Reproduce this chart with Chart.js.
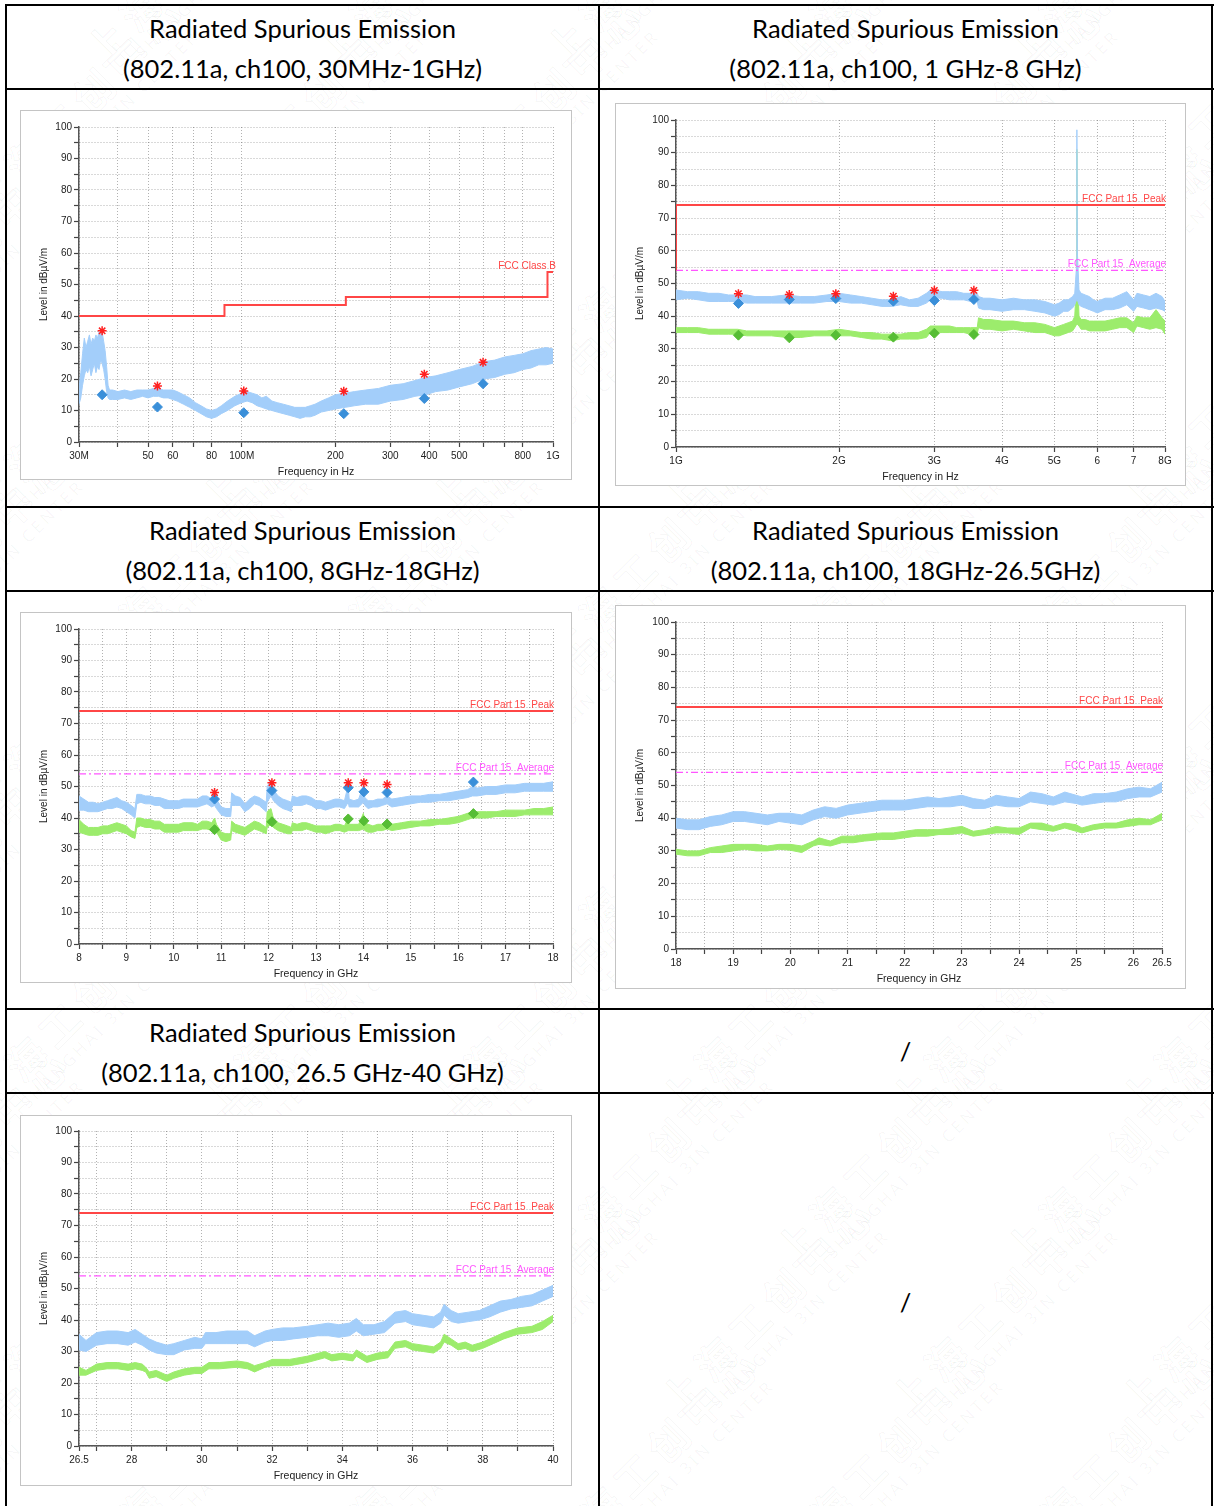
<!DOCTYPE html>
<html>
<head>
<meta charset="utf-8">
<script src="https://cdn.jsdelivr.net/npm/chart.js@4.4.0/dist/chart.umd.min.js"></script>
<style>
html,body{margin:0;padding:0;background:#fff;}
body{width:1214px;height:1506px;position:relative;overflow:hidden;font-family:Lato,"Noto Sans",sans-serif;}
#wm{position:absolute;left:0;top:0;width:1214px;height:1506px;overflow:hidden;z-index:0;}
.wmi{position:absolute;white-space:nowrap;transform:rotate(-45deg);transform-origin:left top;}
.wmi .cn{font-family:"Noto Sans CJK SC";font-size:40px;font-weight:700;line-height:46px;letter-spacing:8px;color:rgba(0,0,0,0.012);-webkit-text-stroke:1px rgba(0,0,0,0.045);}
.wmi .en{font-family:"Noto Sans";font-size:17px;line-height:20px;letter-spacing:3px;padding-left:34px;color:rgba(0,0,0,0.035);}
.ln{position:absolute;background:#000;z-index:3;}
.hd{position:absolute;z-index:2;text-align:center;font-size:25.5px;color:#000;line-height:40px;white-space:nowrap;}
.frame{position:absolute;border:1px solid #c4c4c4;background:#fff;z-index:1;}
.frame canvas{display:block;}
</style>
</head>
<body>
<div id="wm"></div>

<!-- table grid lines -->
<div class="ln" style="left:5px;top:4px;width:1209px;height:2px;"></div>
<div class="ln" style="left:5px;top:88px;width:1209px;height:2px;"></div>
<div class="ln" style="left:5px;top:506px;width:1209px;height:2px;"></div>
<div class="ln" style="left:5px;top:590px;width:1209px;height:2px;"></div>
<div class="ln" style="left:5px;top:1008px;width:1209px;height:2px;"></div>
<div class="ln" style="left:5px;top:1092px;width:1209px;height:2px;"></div>
<div class="ln" style="left:5px;top:4px;width:2px;height:1502px;"></div>
<div class="ln" style="left:598px;top:4px;width:2px;height:1502px;"></div>
<div class="ln" style="left:1211px;top:4px;width:2px;height:1502px;"></div>

<!-- headers -->
<div class="hd" style="left:7px;top:8px;width:591px;">Radiated Spurious Emission<br>(802.11a, ch100, 30MHz-1GHz)</div>
<div class="hd" style="left:600px;top:8px;width:611px;">Radiated Spurious Emission<br>(802.11a, ch100, 1 GHz-8 GHz)</div>
<div class="hd" style="left:7px;top:510px;width:591px;">Radiated Spurious Emission<br>(802.11a, ch100, 8GHz-18GHz)</div>
<div class="hd" style="left:600px;top:510px;width:611px;">Radiated Spurious Emission<br>(802.11a, ch100, 18GHz-26.5GHz)</div>
<div class="hd" style="left:7px;top:1012px;width:591px;">Radiated Spurious Emission<br>(802.11a, ch100, 26.5 GHz-40 GHz)</div>
<div class="hd" style="left:600px;top:1031px;width:611px;">/</div>
<div class="hd" style="left:600px;top:1282px;width:611px;">/</div>

<!-- chart frames -->
<div class="frame" style="left:20px;top:110px;width:550px;height:368px;"><canvas id="c1" width="550" height="368"></canvas></div>
<div class="frame" style="left:615px;top:103px;width:569px;height:381px;"><canvas id="c2" width="569" height="381"></canvas></div>
<div class="frame" style="left:20px;top:612px;width:550px;height:369px;"><canvas id="c3" width="550" height="369"></canvas></div>
<div class="frame" style="left:615px;top:605px;width:569px;height:382px;"><canvas id="c4" width="569" height="382"></canvas></div>
<div class="frame" style="left:20px;top:1115px;width:550px;height:369px;"><canvas id="c5" width="550" height="369"></canvas></div>

<script>
// ===================== DATA =====================
// Chart 1: 30 MHz - 1 GHz  (frequency MHz, upper, lower level of the noisy trace band)
const c1Peak = [[30,17,12],[30.4,22,14],[30.8,28,18],[31.2,33,21],[31.6,30,23],[32,32,22],[32.4,34,24],[32.8,31,21],[33.2,33,23],[33.6,32,25],[34,34,22],[34.4,33,24],[34.8,35,23],[35.2,34,26],[35.6,35,25],[36,32,23],[36.4,29,20],[36.8,24,16],[37.2,18,14],[37.6,16.5,13.5],[38.5,16.5,13.5],[40,16,13.5],[42,16.5,14],[44,16,13.5],[46,16.5,14],[48,16.5,14.5],[50,16.5,14],[52,17,14.5],[54,17,14.5],[56,16.5,14],[58,16.5,14],[60,16.5,13.5],[62,16,13],[65,15,12],[68,14,11],[71,12.5,10],[74,11.5,9],[77,10.5,8],[80,10,7.5],[83,10.5,8],[86,11.5,9],[90,13,10],[95,14.5,11.5],[100,15.5,12.5],[104,16,13],[108,15.5,12.5],[112,15,11.5],[116,14,11],[120,14.5,10.5],[125,13,10],[130,12.5,9.5],[136,12,9],[142,11.5,8.5],[148,11,8],[154,11,7.5],[160,11,8],[166,11.5,8],[172,12,8.5],[180,13,9.5],[190,14,10],[200,15,10.5],[215,15.5,11],[230,16,11.5],[250,16.5,12],[275,17,12],[300,18,13],[330,18.5,13.5],[360,19.5,14.5],[390,20.5,15],[420,21,16],[460,22,16.5],[500,23,17.5],[550,24,18.5],[600,25.5,20],[650,26,20.5],[700,27,21.5],[750,27.5,22],[800,28,23],[850,29,23.5],[900,29.5,24.5],[950,30,24.5],[1000,29.5,25]];
const c1PeakMarks = [[35.6,35.3],[53.6,17.8],[101.5,16.2],[212.7,16.1],[386,21.5],[596,25.3]];
const c1QpMarks = [[35.6,15],[53.6,11.1],[101.5,9.3],[212.7,9.0],[386,13.8],[596,18.5]];
const c1LimitFreq = [30,88,88,216,216,960,960,1000];
const c1LimitLevel = [40,40,43.5,43.5,46,46,54,54];
const c1XTicks = [30,40,50,60,70,80,100,200,300,400,500,600,700,800,1000];
const c1XLabels = ['30M','','50','60','','80','100M','200','300','400','500','','','800','1G'];

// Chart 2: 1 GHz - 8 GHz (GHz, upper, lower)
const c2Peak = [[1.0,48,45],[1.05,47.5,45.5],[1.1,47.5,45],[1.15,47,44.5],[1.2,47,44.5],[1.25,46.5,44.5],[1.3,46.5,44.5],[1.35,46.5,44],[1.4,46,44],[1.5,46,44],[1.6,46.5,44],[1.7,46,44],[1.8,46,44],[1.9,46.5,44.5],[2.0,47,44.5],[2.1,46.5,44],[2.2,46,44],[2.3,45.5,43.5],[2.4,45,43],[2.5,45,43],[2.6,46,43.5],[2.7,45,43],[2.8,45.5,43],[2.9,47,44],[2.95,48,45],[3.0,48,45.5],[3.1,47.5,45.5],[3.2,47.5,45],[3.3,47.5,45],[3.4,47,45],[3.5,47,44.5],[3.6,47,44.5],[3.62,46,42.5],[3.7,45.5,42],[3.8,45.5,42],[4.0,45,41.5],[4.2,45.5,42],[4.4,45,42],[4.6,45,41.5],[4.8,44.5,41],[5.0,43.5,40],[5.1,44,40.5],[5.2,45,41.5],[5.3,45,41.5],[5.4,46,42.5],[5.45,47,43.5],[5.49,55,45],[5.5,97,45],[5.51,60,45],[5.55,48,43.5],[5.6,47,43],[5.7,46.5,42.5],[5.8,46,42],[5.9,45,41.5],[6.0,44.5,41],[6.2,45.5,42],[6.4,45.5,42],[6.6,46.5,42.5],[6.8,47.5,43.5],[7.0,45,41.5],[7.1,47,43],[7.3,46.5,42.5],[7.5,46,42],[7.7,47,42.5],[7.9,46,42],[8.0,44.5,41.5]];
const c2Avg = [[1.0,36.5,35],[1.05,36.5,35],[1.1,36.5,35],[1.15,36,34.5],[1.2,36,34.5],[1.25,36,34.5],[1.3,36,34.5],[1.35,35.5,34],[1.4,35.5,34],[1.5,35.5,34],[1.6,35.5,33.5],[1.7,35.5,33.5],[1.8,35.5,34],[1.9,35.5,34],[2.0,36,34],[2.1,35.5,34],[2.2,35,33.5],[2.3,35,33],[2.4,34.5,33],[2.5,34.5,32.5],[2.6,34.5,33],[2.7,35,33],[2.8,35,33],[2.9,36,33.5],[2.95,37,35],[3.0,37,35],[3.1,37,35],[3.2,37,35],[3.3,36.5,35],[3.4,36.5,35],[3.5,36.5,34.5],[3.6,36.5,34.5],[3.62,39.5,36.5],[3.7,39,36],[3.8,39,36],[4.0,38.5,35.5],[4.2,38.5,36],[4.4,38,35.5],[4.6,38,35],[4.8,37.5,35],[5.0,36.5,34],[5.1,37,34],[5.2,37.5,34.5],[5.3,38,35],[5.4,38.5,35.5],[5.45,40,36.5],[5.49,50,37.5],[5.5,91,37.5],[5.51,55,37.5],[5.55,40,37],[5.6,39,36],[5.7,39,36],[5.8,38.5,35.5],[5.9,38.5,35.5],[6.0,38.5,35.5],[6.2,38.5,35.5],[6.4,39,36],[6.6,39.5,36.5],[6.8,39.5,36.5],[7.0,38,35],[7.1,40,37],[7.3,39.5,36.5],[7.5,39.5,36],[7.7,42,36.5],[7.9,39.5,36],[8.0,38.5,34.5]];
const c2PeakMarks = [[1.304,46.9],[1.619,46.6],[1.973,46.9],[2.52,46.1],[3.0,47.9],[3.549,47.9]];
const c2PeakDiamonds = [[1.304,43.9],[1.619,45.1],[1.973,45.4],[2.52,44.6],[3.0,44.8],[3.549,45.1]];
const c2AvgDiamonds = [[1.304,34.2],[1.619,33.4],[1.973,34.2],[2.52,33.6],[3.0,34.8],[3.549,34.4]];
const c2PeakLimitFreq = [1,1,8];
const c2PeakLimitLevel = [54,74,74];
const c2AvgLimitFreq = [1,8];
const c2AvgLimitLevel = [54,54];
const c2XTicks = [1,2,3,4,5,6,7,8];
const c2XLabels = ['1G','2G','3G','4G','5G','6','7','8G'];

// Chart 3: 8 - 18 GHz
const c3Peak = [[8.0,47,42.5],[8.1,46,42.5],[8.2,45,42],[8.3,45,42],[8.4,44.5,42],[8.5,45,42.5],[8.6,45.5,43],[8.7,46,43],[8.8,46.5,43.5],[8.9,45.5,43],[9.0,45,42],[9.1,44,41],[9.18,43,40],[9.22,47.5,44.5],[9.3,47.5,45],[9.4,47,44.5],[9.5,47,44.5],[9.6,46.5,44],[9.7,46.5,44],[9.8,46,43],[9.9,45.5,43],[10.0,45.5,43],[10.1,45.5,43],[10.2,46,43.5],[10.3,46,43.5],[10.4,46,43.5],[10.5,46,43.5],[10.6,47,44],[10.7,47,44.5],[10.8,46,43.5],[10.86,49,44],[10.9,46,43],[11.0,43.5,41],[11.1,43,40.5],[11.2,43,40.5],[11.22,48,44],[11.3,47,44],[11.4,46.5,44],[11.5,44.5,42],[11.6,46,43],[11.7,47,44.5],[11.8,46.5,44],[11.95,45,42],[11.97,50,45],[12.05,52,47],[12.1,49,45.5],[12.2,47,44],[12.3,46,43],[12.4,45.5,42.5],[12.48,45,42],[12.5,47,44],[12.6,46.5,44],[12.7,47,44],[12.8,47,44.5],[12.9,46.5,44],[13.0,45.5,43],[13.1,45.5,43],[13.2,45,42.5],[13.3,45.5,43],[13.4,46,43.5],[13.5,46,43.5],[13.6,45.5,43],[13.68,50.5,45],[13.7,46,43.5],[13.8,45.5,43.5],[13.9,46,43.5],[14.0,50.5,45],[14.03,46.5,44],[14.1,45.5,43],[14.2,45.5,43.5],[14.3,46,43.5],[14.4,46,44],[14.5,47,44.5],[14.6,46,43.5],[14.8,46.5,44],[15.0,47,44.5],[15.2,47,45],[15.4,47.5,45],[15.6,47.5,45.5],[15.8,48,45.5],[16.0,48.5,46],[16.2,49,46.5],[16.3,50,47],[16.4,49.5,47],[16.6,50,47.5],[16.8,50,47.5],[17.0,50.5,48],[17.2,50.5,48],[17.4,51,48.5],[17.6,51,48.5],[17.8,51,48.5],[18.0,51.5,48.5]];
const c3Avg = [[8.0,39.5,35.5],[8.1,38,35],[8.2,37,34.5],[8.3,37,34.5],[8.4,37,34.5],[8.5,37.5,35],[8.6,37.5,35],[8.7,38,35.5],[8.8,38.5,36],[8.9,38,35.5],[9.0,37.5,35],[9.1,36,34],[9.18,35.5,33.5],[9.22,40,37],[9.3,40,37.5],[9.4,39.5,37],[9.5,39.5,37],[9.6,39,36.5],[9.7,39,36.5],[9.8,38,35.5],[9.9,38,35.5],[10.0,38,35.5],[10.1,38,35.5],[10.2,38.5,36],[10.3,38.5,36],[10.4,38.5,36],[10.5,38,36],[10.6,39,36.5],[10.7,39,36.5],[10.8,38.5,36],[10.86,40,36],[10.9,38,35.5],[11.0,35.5,33],[11.1,35,32.5],[11.2,35,33],[11.22,39,36],[11.3,38,35.5],[11.4,37.5,35],[11.5,37,34.5],[11.6,38,35.5],[11.7,39,36.5],[11.8,38.5,36],[11.95,37,35],[11.97,42,37],[12.05,43,38],[12.1,40,37],[12.2,38.5,36],[12.3,38,35.5],[12.4,37.5,35],[12.48,37,35],[12.5,38.5,36],[12.6,38,36],[12.7,38.5,36],[12.8,38.5,36.5],[12.9,38,36],[13.0,37.5,35.5],[13.1,37.5,35.5],[13.2,37.5,35],[13.3,37.5,35.5],[13.4,38,36],[13.5,38,36],[13.6,37.5,35.5],[13.68,40,36],[13.7,38,36],[13.8,38,36],[13.9,38,36],[14.0,41.5,36.5],[14.03,38.5,36],[14.1,38,35.5],[14.2,37.5,35.5],[14.3,38,36],[14.4,38,36],[14.5,38.5,36.5],[14.6,38,36],[14.8,38.5,36.5],[15.0,39,37],[15.2,39,37.5],[15.4,39.5,37.5],[15.6,39.5,38],[15.8,40,38],[16.0,40.5,38.5],[16.2,41.5,39.5],[16.3,42,40],[16.4,42,40],[16.6,42,40],[16.8,42,40.5],[17.0,42.5,40.5],[17.2,42.5,40.5],[17.4,42.5,41],[17.6,43,41],[17.8,43,41],[18.0,43.5,41]];
const c3PeakMarks = [[10.86,48.1],[12.07,51.2],[13.68,51.2],[14.01,51.2],[14.5,50.6]];
const c3PeakDiamonds = [[10.86,46.0],[12.07,48.7],[13.68,49.6],[14.01,48.3],[14.5,48.1],[16.32,51.4]];
const c3AvgDiamonds = [[10.86,36.3],[12.07,38.8],[13.68,39.7],[14.01,39.1],[14.5,38.1],[16.32,41.4]];
const c3LimitFreq = [8,18];
const c3XTicks = [8,8.5,9,9.5,10,10.5,11,11.5,12,12.5,13,13.5,14,14.5,15,15.5,16,16.5,17,17.5,18];
const c3XLabels = ['8','','9','','10','','11','','12','','13','','14','','15','','16','','17','','18'];

// Chart 4: 18 - 26.5 GHz
const c4Peak = [[18.0,40,37],[18.2,39.5,36.5],[18.4,39.5,36.5],[18.6,40.5,37.5],[18.8,41,38],[19.0,42,39],[19.2,42,39],[19.4,41.5,38.5],[19.6,41,38],[19.8,41.5,39],[20.0,41.5,38.5],[20.2,41,38],[20.4,42.5,39.5],[20.6,43.5,40.5],[20.8,43,40],[21.0,44,41],[21.2,44.5,41.5],[21.4,45,42],[21.6,45.5,42.5],[21.8,45.5,42.5],[22.0,45.5,42.5],[22.2,46,43],[22.4,46.5,43.5],[22.6,46,43.5],[22.8,46.5,43.5],[23.0,47,44],[23.2,46,43],[23.4,45.5,43],[23.6,47,44],[23.8,46.5,43.5],[24.0,46,43.5],[24.2,48,45],[24.4,47.5,44.5],[24.6,46.5,44],[24.8,48,45],[25.0,47,44.5],[25.1,46.5,44],[25.3,47.5,44.5],[25.5,47.5,45],[25.7,48,45],[25.9,49,46],[26.1,49.5,46.5],[26.3,49,46.5],[26.5,51,48]];
const c4Avg = [[18.0,30.5,29],[18.2,30,28.5],[18.4,30,28.5],[18.6,31,29.5],[18.8,31.5,29.5],[19.0,32,30],[19.2,32,30.5],[19.4,32,30],[19.6,31.5,30],[19.8,32,30.5],[20.0,32,30.2],[20.2,31.5,29.5],[20.4,33,31.5],[20.5,34,32],[20.7,33,31.5],[20.9,34.5,32.5],[21.1,34.5,32.5],[21.3,35,33],[21.6,35.5,33.5],[21.8,35.5,33.5],[22.0,36,34],[22.2,36.5,34.5],[22.4,36.5,34.5],[22.6,36.5,35],[22.8,37,35],[23.0,37.5,35.5],[23.2,36,34.5],[23.4,36.5,35],[23.6,37.5,35.5],[23.8,37,35.5],[24.0,37,35],[24.2,38.5,37],[24.4,38.5,36.5],[24.6,37.5,36],[24.8,38.5,37],[25.0,38,36],[25.1,37,35.5],[25.3,38,36.5],[25.5,38.5,37],[25.7,38.5,37],[25.9,39.5,37.5],[26.1,40,38],[26.3,39.5,38],[26.5,41.5,39.5]];
const c4LimitFreq = [18,26.5];
const c4XTicks = [18,18.5,19,19.5,20,20.5,21,21.5,22,22.5,23,23.5,24,24.5,25,25.5,26,26.5];
const c4XLabels = ['18','','19','','20','','21','','22','','23','','24','','25','','26','26.5'];

// Chart 5: 26.5 - 40 GHz
const c5Peak = [[26.5,35.5,30.5],[26.7,33.5,30],[27.0,36,32],[27.3,36.5,32.5],[27.6,36.5,32.5],[27.9,36,32],[28.1,37,33],[28.3,35.5,32],[28.5,34,30.5],[28.7,33,29.5],[29.0,32,29],[29.2,32.5,29],[29.5,33.5,30.5],[29.8,34.5,31],[30.0,34,31],[30.1,36,32.5],[30.4,36,32.5],[30.7,36.5,32.5],[31.0,36.5,32.5],[31.3,36.5,32.5],[31.5,35,31.5],[31.8,36.5,33],[32.0,37,33.5],[32.3,37.5,33.5],[32.6,37.5,34],[33.0,38,34.5],[33.3,38.5,35],[33.6,39,35],[33.9,38.5,34.5],[34.2,39,35],[34.4,40.5,36.5],[34.6,38.5,35],[34.9,38.5,35.5],[35.2,39.5,36],[35.5,42.5,39],[35.8,43,39.5],[36.0,42,38.5],[36.3,41.5,38],[36.6,41,37.5],[36.8,42.5,39],[36.9,45,41.5],[37.1,43,39.5],[37.3,42,39],[37.6,42.5,39.5],[37.9,43,40],[38.2,44.5,41],[38.5,46,42.5],[38.8,46.5,43.5],[39.1,47.5,44],[39.4,48,44.5],[39.7,49.5,46],[40.0,51,47.5]];
const c5Avg = [[26.5,25,22.5],[26.7,24,22.5],[27.0,26,24],[27.3,26.5,24.5],[27.6,26.5,24.5],[27.9,26,24],[28.1,26.5,24.5],[28.3,26,24],[28.4,25,23.5],[28.5,23.5,21.5],[28.7,24,22],[29.0,22.5,20.5],[29.2,23.5,21.5],[29.5,24.5,22.5],[29.8,25,23],[30.0,25,23],[30.2,26.5,24.5],[30.5,26.5,24.5],[31.0,27,25],[31.3,26.5,24.5],[31.5,25.5,23.5],[31.8,26.5,25],[32.0,27.5,25.5],[32.5,27.5,25.5],[33.0,28.5,26.5],[33.5,30,28],[33.7,29,27],[34.0,29.5,27.5],[34.3,29,27],[34.4,30.5,28.5],[34.7,28.5,26.5],[35.0,29.5,27.5],[35.3,30,28],[35.5,33,31],[35.8,33.5,31.5],[36.0,32.5,30.5],[36.3,32,30],[36.6,31.5,29.5],[36.8,33,31],[36.9,35.5,33],[37.1,34,32],[37.3,32.5,30.5],[37.5,33,31],[37.7,32,30],[38.0,33,31],[38.3,34.5,32.5],[38.6,36,34],[39.0,37.5,35.5],[39.4,38,36],[39.7,39.5,37],[40.0,41.5,39.5]];
const c5LimitFreq = [26.5,40];
const c5XTicks = [26.5,27,28,29,30,31,32,33,34,35,36,37,38,39,40];
const c5XLabels = ['26.5','','28','','30','','32','','34','','36','','38','','40'];

// Common limits & texts
const peakLimitLevel = [74,74];
const avgLimitLevel = [54,54];
const peakLimitText = 'FCC Part 15  Peak';
const avgLimitText = 'FCC Part 15  Average';
const classBText = 'FCC Class B';
const yTitle = 'Level in dB\u00B5V/m';

// ===================== WATERMARK =====================
(function(){
  const wm = document.getElementById('wm');
  for (let r = -3; r < 13; r++) {
    for (let c = -2; c < 8; c++) {
      const el = document.createElement('div');
      el.className = 'wmi';
      el.style.left = (c * 230 + (r % 2 ? 115 : 0) - 40) + 'px';
      el.style.top = (r * 150 + 190) + 'px';
      el.innerHTML = '<div class="cn">上海工创中心</div><div class="en">SHANGHAI 3IN CENTER</div>';
      wm.appendChild(el);
    }
  }
})();

// ===================== CHARTS =====================
const FONT = '"Liberation Sans", Arial, sans-serif';
const COL = {
  peakTrace: '#a3cefa', avgTrace: '#9cec6c',
  peakLimit: '#ff4646', avgLimit: '#ff55ff',
  star: '#ff2020', blueDia: '#3a8fd9', greenDia: '#56bd35',
  grid: 'rgba(0,0,0,0.30)', axis: '#555', text: '#222'
};

const pts = (arr, k) => arr.map(p => ({x: p[0], y: p[k]}));
const xy = (xs, ys) => xs.map((v, i) => ({x: v, y: ys[i]}));

function band(arr, color, order) {
  return [
    {data: pts(arr, 1), borderColor: color, backgroundColor: color, borderWidth: 1, pointRadius: 0, fill: '+1', order, tension: 0},
    {data: pts(arr, 2), borderColor: color, backgroundColor: color, borderWidth: 1, pointRadius: 0, fill: false, order, tension: 0}
  ];
}
function limit(data, color, width, dash, order) {
  return {data, borderColor: color, borderWidth: width, borderDash: dash, pointRadius: 0, fill: false, order, tension: 0};
}
function marks(arr, style, color, radius, order) {
  return {data: pts(arr, 1), showLine: false, pointStyle: style, pointRadius: radius,
    pointBorderColor: color, pointBackgroundColor: color, pointBorderWidth: style === 'star' ? 1.5 : 1,
    borderColor: color, backgroundColor: color, order};
}

const limitLabelPlugin = {
  id: 'limitLabels',
  afterDatasetsDraw(chart, args, opts) {
    const {ctx, chartArea, scales} = chart;
    (opts.items || []).forEach(it => {
      ctx.save();
      ctx.font = '10px ' + FONT;
      ctx.fillStyle = it.color;
      ctx.textAlign = 'right';
      ctx.textBaseline = 'bottom';
      ctx.fillText(it.text, chartArea.right + it.dx, scales.y.getPixelForValue(it.value) - 1);
      ctx.restore();
    });
  }
};

function gridOpts() {
  return {color: COL.grid, lineWidth: 1, drawTicks: true, tickLength: 5, tickColor: '#444', tickWidth: 1.2, tickBorderDash: []};
}
function borderOpts() {
  return {display: true, color: COL.axis, width: 1.5, dash: [1, 2]};
}

function makeChart(id, g, d) {
  new Chart(document.getElementById(id), {
    type: 'line',
    data: {datasets: d.datasets},
    plugins: [limitLabelPlugin],
    options: {
      responsive: false, animation: false, devicePixelRatio: 1, events: [],
      layout: {padding: {left: 0, top: g.padTop, right: g.padRight, bottom: 0}},
      plugins: {legend: {display: false}, tooltip: {enabled: false}, limitLabels: {items: d.labels}},
      scales: {
        x: {
          type: d.xType, min: d.xMin, max: d.xMax,
          afterBuildTicks: s => { s.ticks = d.xTicks.map(v => ({value: v})); },
          afterFit: s => { s.height = g.xH; },
          ticks: {autoSkip: false, maxRotation: 0, minRotation: 0, padding: 3, color: COL.text,
            font: {family: FONT, size: 10}, callback: (v, i) => d.xLabels[i]},
          grid: gridOpts(), border: borderOpts(),
          title: {display: true, text: d.xTitle, color: COL.text, font: {family: FONT, size: 10.5},
            padding: {top: 0, bottom: g.xTitlePad}}
        },
        y: {
          type: 'linear', min: 0, max: 100,
          afterFit: s => { s.width = g.yW; },
          ticks: {stepSize: 5, autoSkip: false, padding: 2, color: COL.text, font: {family: FONT, size: 10},
            callback: v => (v % 10 === 0 ? String(v) : '')},
          grid: gridOpts(), border: borderOpts(),
          title: {display: true, text: yTitle, color: COL.text, font: {family: FONT, size: 10},
            padding: {top: g.yTitlePad, bottom: 0}}
        }
      }
    }
  });
}

// Chart 1
makeChart('c1', {yW: 58, xH: 37, padTop: 16, padRight: 18, yTitlePad: 17, xTitlePad: 1}, {
  xType: 'logarithmic', xMin: 30, xMax: 1000, xTicks: c1XTicks, xLabels: c1XLabels, xTitle: 'Frequency in Hz',
  datasets: [
    marks(c1PeakMarks, 'star', COL.star, 4.5, 0),
    marks(c1QpMarks, 'rectRot', COL.blueDia, 5, 1),
    limit(xy(c1LimitFreq, c1LimitLevel), COL.peakLimit, 2, [], 2),
    ...band(c1Peak, COL.peakTrace, 4)
  ],
  labels: [{text: classBText, value: 54, color: COL.peakLimit, dx: 3}]
});

// Chart 2
makeChart('c2', {yW: 60, xH: 38, padTop: 16, padRight: 20, yTitlePad: 18, xTitlePad: 2}, {
  xType: 'logarithmic', xMin: 1, xMax: 8, xTicks: c2XTicks, xLabels: c2XLabels, xTitle: 'Frequency in Hz',
  datasets: [
    marks(c2PeakMarks, 'star', COL.star, 4.5, 0),
    marks(c2PeakDiamonds, 'rectRot', COL.blueDia, 5, 1),
    marks(c2AvgDiamonds, 'rectRot', COL.greenDia, 5, 1),
    limit(xy(c2PeakLimitFreq, c2PeakLimitLevel), COL.peakLimit, 2, [], 2),
    limit(xy(c2AvgLimitFreq, c2AvgLimitLevel), COL.avgLimit, 1.2, [7, 3, 2, 3], 2),
    ...band(c2Peak, COL.peakTrace, 4),
    ...band(c2Avg, COL.avgTrace, 5)
  ],
  labels: [{text: peakLimitText, value: 74, color: COL.peakLimit, dx: 1},
           {text: avgLimitText, value: 54, color: COL.avgLimit, dx: 1}]
});

// Chart 3
makeChart('c3', {yW: 58, xH: 38, padTop: 16, padRight: 18, yTitlePad: 17, xTitlePad: 2}, {
  xType: 'linear', xMin: 8, xMax: 18, xTicks: c3XTicks, xLabels: c3XLabels, xTitle: 'Frequency in GHz',
  datasets: [
    marks(c3PeakMarks, 'star', COL.star, 4.5, 0),
    marks(c3PeakDiamonds, 'rectRot', COL.blueDia, 5, 1),
    marks(c3AvgDiamonds, 'rectRot', COL.greenDia, 5, 1),
    limit(xy(c3LimitFreq, peakLimitLevel), COL.peakLimit, 2, [], 2),
    limit(xy(c3LimitFreq, avgLimitLevel), COL.avgLimit, 1.2, [7, 3, 2, 3], 2),
    ...band(c3Peak, COL.peakTrace, 4),
    ...band(c3Avg, COL.avgTrace, 5)
  ],
  labels: [{text: peakLimitText, value: 74, color: COL.peakLimit, dx: 1},
           {text: avgLimitText, value: 54, color: COL.avgLimit, dx: 1}]
});

// Chart 4
makeChart('c4', {yW: 60, xH: 39, padTop: 16, padRight: 23, yTitlePad: 18, xTitlePad: 3}, {
  xType: 'linear', xMin: 18, xMax: 26.5, xTicks: c4XTicks, xLabels: c4XLabels, xTitle: 'Frequency in GHz',
  datasets: [
    limit(xy(c4LimitFreq, peakLimitLevel), COL.peakLimit, 2, [], 2),
    limit(xy(c4LimitFreq, avgLimitLevel), COL.avgLimit, 1.2, [7, 3, 2, 3], 2),
    ...band(c4Peak, COL.peakTrace, 4),
    ...band(c4Avg, COL.avgTrace, 5)
  ],
  labels: [{text: peakLimitText, value: 74, color: COL.peakLimit, dx: 1},
           {text: avgLimitText, value: 54, color: COL.avgLimit, dx: 1}]
});

// Chart 5
makeChart('c5', {yW: 58, xH: 39, padTop: 15, padRight: 18, yTitlePad: 17, xTitlePad: 3}, {
  xType: 'linear', xMin: 26.5, xMax: 40, xTicks: c5XTicks, xLabels: c5XLabels, xTitle: 'Frequency in GHz',
  datasets: [
    limit(xy(c5LimitFreq, peakLimitLevel), COL.peakLimit, 2, [], 2),
    limit(xy(c5LimitFreq, avgLimitLevel), COL.avgLimit, 1.2, [7, 3, 2, 3], 2),
    ...band(c5Peak, COL.peakTrace, 4),
    ...band(c5Avg, COL.avgTrace, 5)
  ],
  labels: [{text: peakLimitText, value: 74, color: COL.peakLimit, dx: 1},
           {text: avgLimitText, value: 54, color: COL.avgLimit, dx: 1}]
});
</script>
</body>
</html>
